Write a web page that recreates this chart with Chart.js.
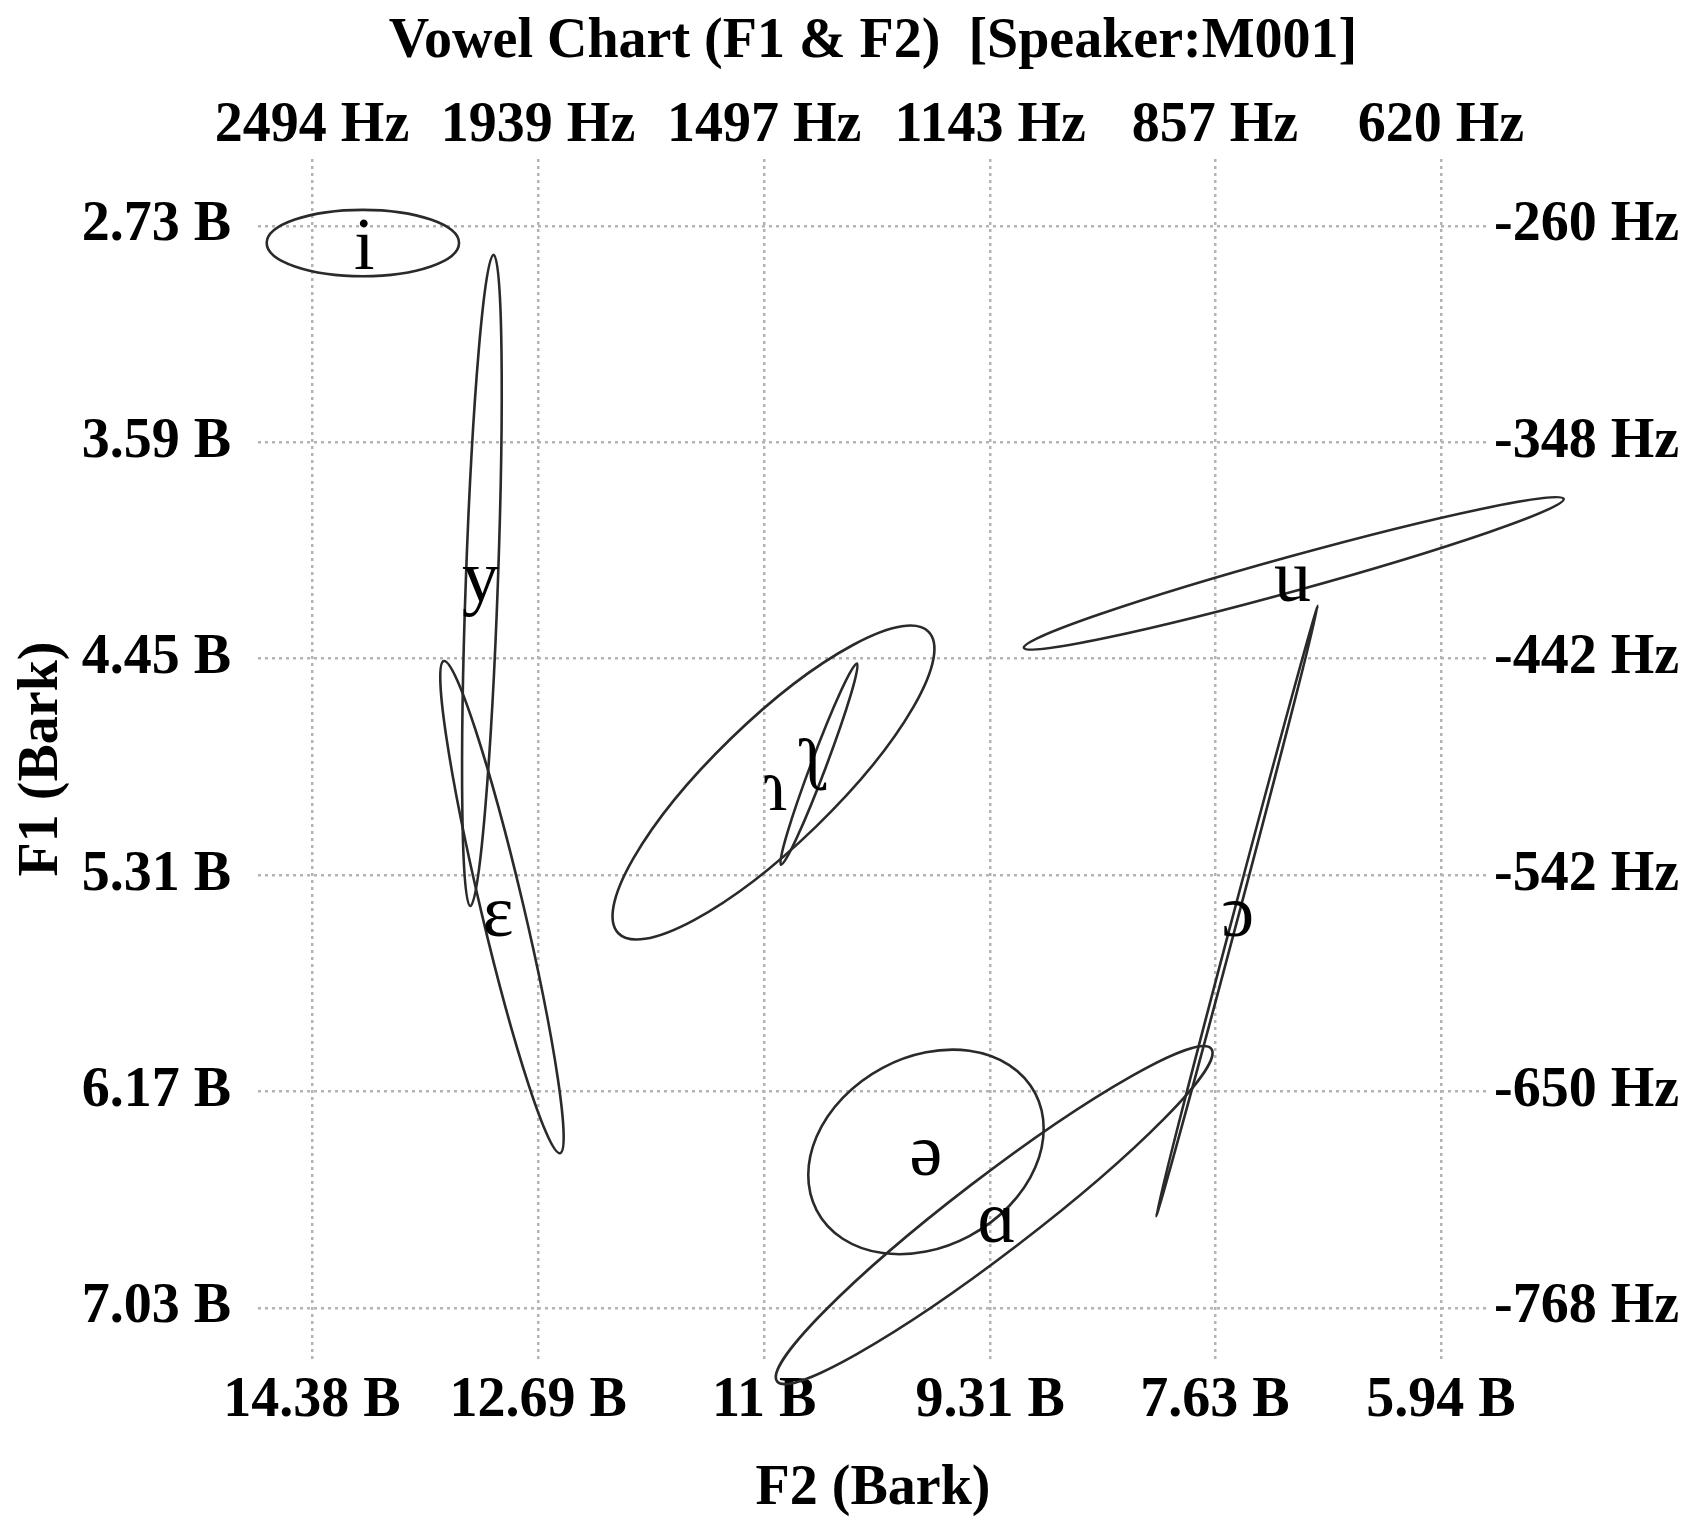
<!DOCTYPE html>
<html>
<head>
<meta charset="utf-8">
<script src="https://cdn.jsdelivr.net/npm/chart.js@4.4.1/dist/chart.umd.min.js"></script>
<style>
  html, body { margin: 0; padding: 0; background: #fff; }
</style>
</head>
<body>
<canvas id="vowelChart" width="1685" height="1530"></canvas>
<script>
// axis ticks (Bark) and their Hz equivalents
const f2Ticks = [14.38, 12.69, 11, 9.31, 7.63, 5.94];
const f2HzLabels = ['2494 Hz', '1939 Hz', '1497 Hz', '1143 Hz', '857 Hz', '620 Hz'];
const f1Ticks = [2.73, 3.59, 4.45, 5.31, 6.17, 7.03];
const f1HzLabels = ['-260 Hz', '-348 Hz', '-442 Hz', '-542 Hz', '-650 Hz', '-768 Hz'];

const vowels = ['i', 'y', 'ɛ', 'ɿ', 'ʅ', 'u', 'ɔ', 'ə', 'ɑ'];
// ellipse centre (F2, F1 in Bark)
const centreF2 = [14.00, 13.11, 12.96, 10.93, 10.59, 7.04, 7.465, 9.79, 9.28];
const centreF1 = [2.798, 4.139, 5.437, 4.942, 4.869, 4.111, 5.453, 6.41, 6.661];
// end of first semi-axis
const axisAF2 = [13.281, 13.023, 12.525, 9.770, 10.306, 5.022, 6.86, 8.91, 7.657];
const axisAF1 = [2.798, 2.845, 6.415, 4.343, 4.469, 3.815, 4.24, 6.318, 6.0];
// end of conjugate semi-axis
const axisBF2 = [14.00, 12.99, 12.806, 10.61, 10.538, 7.004, 7.446, 9.79, 9.105];
const axisBF1 = [2.930, 4.141, 5.417, 5.116, 4.880, 4.177, 5.456, 6.806, 6.780];
// vowel symbol position (baseline)
const labelF2 = [13.99, 13.12, 12.99, 10.92, 10.61, 7.05, 7.46, 9.79, 9.26];
const labelF1 = [2.90, 4.22, 5.55, 5.05, 4.97, 4.22, 5.55, 6.50, 6.77];

const F2_MIN = 5.588, F2_MAX = 14.784;
const F1_MIN = 2.464, F1_MAX = 7.233;

const serif = "'Liberation Serif', 'DejaVu Serif', serif";
const tickFont = { family: serif, size: 56, weight: 'bold', lineHeight: 1.0 };
const gridStyle = { color: '#b4b4b4', lineWidth: 2.5, drawTicks: false };
const dottedBorder = { display: false, dash: [3, 4] };

const ellipsePlugin = {
  id: 'vowelEllipses',
  afterDatasetsDraw(chart) {
    const { ctx, scales: { x, y } } = chart;
    ctx.save();
    ctx.strokeStyle = '#2a2a2a';
    ctx.lineWidth = 2.6;
    vowels.forEach((v, i) => {
      const cx = x.getPixelForValue(centreF2[i]), cy = y.getPixelForValue(centreF1[i]);
      const ax = x.getPixelForValue(axisAF2[i]) - cx, ay = y.getPixelForValue(axisAF1[i]) - cy;
      const bx = x.getPixelForValue(axisBF2[i]) - cx, by = y.getPixelForValue(axisBF1[i]) - cy;
      ctx.save();
      ctx.beginPath();
      ctx.transform(ax, ay, bx, by, cx, cy);
      ctx.arc(0, 0, 1, 0, Math.PI * 2);
      ctx.restore();
      ctx.stroke();
    });
    // vowel symbols
    const meta = chart.getDatasetMeta(0);
    ctx.fillStyle = '#000';
    ctx.font = '74px ' + serif;
    ctx.textAlign = 'center';
    ctx.textBaseline = 'alphabetic';
    meta.data.forEach((pt, i) => ctx.fillText(vowels[i], pt.x, pt.y));
    ctx.restore();
  }
};

new Chart(document.getElementById('vowelChart'), {
  type: 'scatter',
  data: {
    datasets: [{
      label: 'vowels',
      data: vowels.map((v, i) => ({ x: labelF2[i], y: labelF1[i] })),
      pointRadius: 0
    }]
  },
  options: {
    responsive: false,
    animation: false,
    devicePixelRatio: 1,
    layout: { padding: 0 },
    plugins: {
      legend: { display: false },
      tooltip: { enabled: false },
      title: {
        display: true,
        fullSize: false,
        text: 'Vowel Chart (F1 & F2)  [Speaker:M001]',
        color: '#000',
        font: { family: serif, size: 56, weight: 'bold', lineHeight: 1.0 },
        padding: { top: 15, bottom: 8 }
      }
    },
    scales: {
      x: {
        type: 'linear', position: 'bottom', reverse: true, min: F2_MIN, max: F2_MAX,
        afterBuildTicks: s => { s.ticks = f2Ticks.map(v => ({ value: v })); },
        afterFit: s => { s.height = 171; },
        grid: gridStyle,
        border: dottedBorder,
        ticks: { autoSkip: false, maxRotation: 0, padding: 15, color: '#000', font: tickFont,
                 callback: v => v + ' B' },
        title: { display: true, text: 'F2 (Bark)', color: '#000', font: tickFont,
                 padding: { top: 12, bottom: 12 } }
      },
      x2: {
        type: 'linear', position: 'top', reverse: true, min: F2_MIN, max: F2_MAX,
        afterBuildTicks: s => { s.ticks = f2Ticks.map(v => ({ value: v })); },
        afterFit: s => { s.height = 80; },
        grid: { display: false, drawTicks: false },
        border: { display: false },
        ticks: { autoSkip: false, maxRotation: 0, padding: 4, color: '#000', font: tickFont,
                 callback: (v, i) => f2HzLabels[i] }
      },
      y: {
        type: 'linear', position: 'left', reverse: true, min: F1_MIN, max: F1_MAX,
        afterBuildTicks: s => { s.ticks = f1Ticks.map(v => ({ value: v })); },
        afterFit: s => { s.width = 258; },
        grid: gridStyle,
        border: dottedBorder,
        ticks: { autoSkip: false, padding: 27, color: '#000', font: tickFont,
                 callback: v => v + ' B' },
        title: { display: true, text: 'F1 (Bark)', color: '#000', font: tickFont,
                 padding: { top: 15, bottom: 15 } }
      },
      y2: {
        type: 'linear', position: 'right', reverse: true, min: F1_MIN, max: F1_MAX,
        afterBuildTicks: s => { s.ticks = f1Ticks.map(v => ({ value: v })); },
        afterFit: s => { s.width = 197; },
        grid: { display: false, drawTicks: false },
        border: { display: false },
        ticks: { autoSkip: false, padding: 6, color: '#000', font: tickFont,
                 callback: (v, i) => f1HzLabels[i] }
      }
    }
  },
  plugins: [ellipsePlugin]
});
</script>
</body>
</html>
